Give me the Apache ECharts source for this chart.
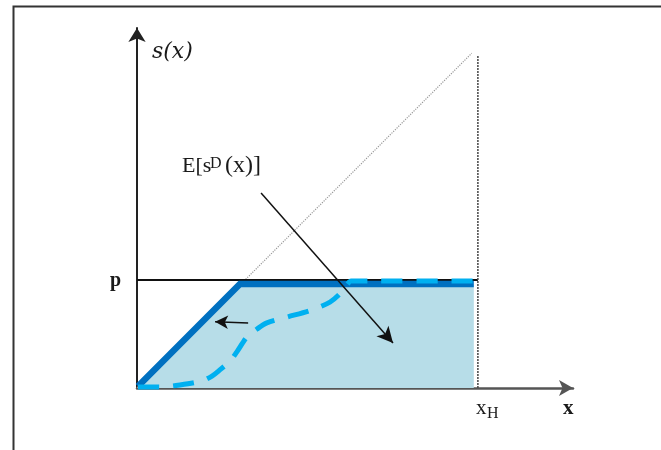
<!DOCTYPE html>
<html lang="en">
<head>
    <meta charset="UTF-8">
    <title>E[sD(x)]</title>
    <script src="https://cdn.jsdelivr.net/npm/echarts@6/dist/echarts.min.js"></script>
    <style>
        html, body {margin: 0; padding: 0; background: #fff;}
        #chart_box {width: 661px; height: 450px;}
    </style>
</head>
<body>
<div id="chart_box"></div>
<script>
    // 数据 (units: x_H = 10, same scale on both axes)
    var xMax = 12.79, yMax = 10.56;
    var xH = 10;
    var pLevel = 3.17;
    // 实线 s(x)
    var solidX = [0.03, 3.02, 9.88];
    var solidY = [0.05, 3.05, 3.05];
    // 虚线 E[s^D(x)]
    var dashX = [0.03, 0.67, 1.26, 1.91, 2.20, 2.43, 2.73, 2.93, 3.23, 3.52, 3.81, 4.40, 5.13, 5.66, 5.95, 6.16, 6.28, 10.0];
    var dashY = [0.03, 0.03, 0.09, 0.21, 0.35, 0.53, 0.79, 1.06, 1.50, 1.73, 1.91, 2.08, 2.29, 2.52, 2.76, 3.03, 3.14, 3.14];
    // 45度线
    var diagX = [0, 9.82];
    var diagY = [0, 9.82];
    var vTop = 9.77;
    // 箭头
    var bigArrow = [[3.64, 5.72], [7.51, 1.32]];
    var smallArrow = [[3.26, 1.91], [2.29, 1.94]];

    function pairs(xs, ys) {
        var out = [];
        for (var i = 0; i < xs.length; i++) out.push([xs[i], ys[i]]);
        return out;
    }

    var chart = echarts.init(document.getElementById('chart_box'));
    var serif = '"Liberation Serif", "DejaVu Serif", serif';

    var option = {
        animation: false,
        grid: {left: 137, top: 28, width: 436, height: 360, containLabel: false},
        xAxis: {
            type: 'value', min: 0, max: xMax,
            axisLine: {lineStyle: {color: '#555', width: 2.5}, symbol: ['none', 'arrow'], symbolSize: [12, 14]},
            axisTick: {show: false}, axisLabel: {show: false}, splitLine: {show: false}
        },
        yAxis: {
            type: 'value', min: 0, max: yMax,
            axisLine: {onZero: false, lineStyle: {color: '#222', width: 2}, symbol: ['none', 'arrow'], symbolSize: [13, 14]},
            axisTick: {show: false}, axisLabel: {show: false}, splitLine: {show: false}
        },
        graphic: [
            {type: 'rect', left: 11, top: 4, shape: {width: 700, height: 445},
                style: {fill: 'none', stroke: '#333', lineWidth: 2}, silent: true},
            {type: 'text', left: 152, top: 41, style: {text: 's(x)', font: 'italic 22px "DejaVu Serif", serif', fill: '#1a1a1a'}},
            {type: 'text', left: 182, top: 155, style: {text: 'E[s', font: '22px ' + serif, fill: '#1a1a1a'}},
            {type: 'text', left: 210, top: 156, style: {text: 'D', font: '16px ' + serif, fill: '#1a1a1a'}},
            {type: 'text', left: 225, top: 154, style: {text: '(x)]', font: '24px ' + serif, fill: '#1a1a1a'}},
            {type: 'text', left: 110, top: 271, style: {text: 'p', font: 'bold 20px ' + serif, fill: '#1a1a1a'}},
            {type: 'text', left: 476, top: 398, style: {text: 'x', font: '21px ' + serif, fill: '#1a1a1a'}},
            {type: 'text', left: 487, top: 406, style: {text: 'H', font: '16px ' + serif, fill: '#1a1a1a'}},
            {type: 'text', left: 563, top: 398, style: {text: 'x', font: 'bold 21px ' + serif, fill: '#1a1a1a'}}
        ],
        series: [
            {
                type: 'line', data: pairs(diagX, diagY), symbol: 'none', silent: true,
                lineStyle: {color: '#999', width: 1.2, type: 'dotted'}, z: 1
            },
            {
                type: 'line', data: pairs(solidX, solidY), symbol: 'none', silent: true,
                lineStyle: {width: 0}, areaStyle: {color: '#b7dde8', opacity: 1}, z: 2
            },
            {
                type: 'line', data: [[0, pLevel], [xH, pLevel]], symbol: 'none', silent: true,
                lineStyle: {color: '#111', width: 2}, z: 3
            },
            {
                type: 'line', data: pairs(solidX, solidY), symbol: 'none', silent: true,
                lineStyle: {color: '#0070c0', width: 6.5, join: 'miter'}, z: 4
            },
            {
                type: 'line', data: [[xH, 0], [xH, vTop]], symbol: 'none', silent: true,
                lineStyle: {color: '#444', width: 1.5, type: [2, 1]}, z: 5
            },
            {
                type: 'line', data: pairs(dashX, dashY), symbol: 'none', smooth: 0.3, silent: true,
                lineStyle: {color: '#00b0f0', width: 5, type: [21, 14]}, z: 6
            },
            {
                type: 'line', data: [], silent: true, z: 7,
                markLine: {
                    silent: true, symbol: ['none', 'arrow'], symbolSize: [12, 16],
                    label: {show: false}, emphasis: {disabled: true},
                    lineStyle: {color: '#111', width: 1.5, type: 'solid'},
                    data: [[{coord: bigArrow[0]}, {coord: bigArrow[1]}]]
                }
            },
            {
                type: 'line', data: [], silent: true, z: 7,
                markLine: {
                    silent: true, symbol: ['none', 'arrow'], symbolSize: [10, 13],
                    label: {show: false}, emphasis: {disabled: true},
                    lineStyle: {color: '#111', width: 1.5, type: 'solid'},
                    data: [[{coord: smallArrow[0]}, {coord: smallArrow[1]}]]
                }
            }
        ]
    };
    chart.setOption(option);
</script>
</body>
</html>
